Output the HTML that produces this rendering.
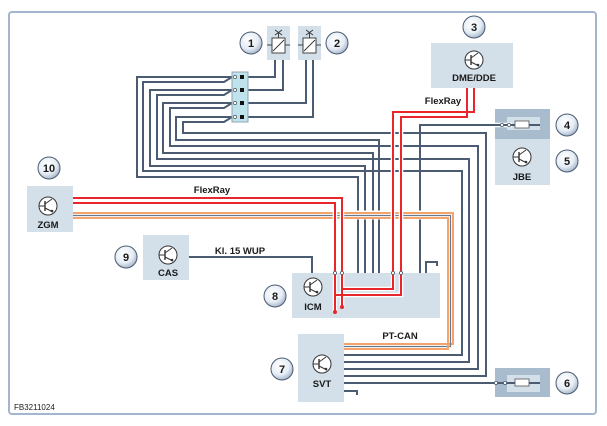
<!DOCTYPE html>
<html><head><meta charset="utf-8"><style>
html,body{margin:0;padding:0;background:#fff;}
svg{display:block;}
text{font-family:"Liberation Sans",sans-serif;font-weight:bold;fill:#1a1a1a;}
</style></head><body>
<svg width="607" height="426" viewBox="0 0 607 426" xmlns="http://www.w3.org/2000/svg">
<defs>
<radialGradient id="cg" cx="40%" cy="35%" r="70%">
<stop offset="0" stop-color="#ffffff"/><stop offset="0.6" stop-color="#e6edf5"/><stop offset="1" stop-color="#9fb0c4"/>
</radialGradient>
<g id="tr">
<circle r="9" fill="#fff" stroke="#333" stroke-width="1"/>
<line x1="-3" y1="-5" x2="-3" y2="5" stroke="#333" stroke-width="1.4"/>
<line x1="-9" y1="0" x2="-3" y2="0" stroke="#333" stroke-width="1"/>
<line x1="-3" y1="-2" x2="4" y2="-7" stroke="#333" stroke-width="1"/>
<line x1="-3" y1="2" x2="5" y2="6" stroke="#333" stroke-width="1"/>
<circle cx="4" cy="5" r="1.3" fill="#333"/>
</g>
</defs>
<rect x="9" y="12" width="587" height="402" rx="3" fill="#fff" stroke="#a3b6cd" stroke-width="2"/>

<!-- boxes -->
<g fill="#d3dfe9">
<rect x="431" y="43" width="82" height="45"/>
<rect x="495" y="109" width="55" height="76"/>
<rect x="27" y="186" width="46" height="46"/>
<rect x="143" y="235" width="46" height="45"/>
<rect x="292" y="273" width="148" height="45"/>
<rect x="298" y="334" width="46" height="68"/>
<rect x="267" y="26" width="23" height="34"/>
<rect x="298" y="26" width="23" height="34"/>
</g>
<rect x="495" y="109" width="55" height="30" fill="#a9bccd"/>
<rect x="495" y="368" width="55" height="29" fill="#a9bccd"/>
<rect x="507" y="117" width="33" height="13" fill="#d3dfe9"/>
<rect x="507" y="375" width="33" height="17" fill="#d3dfe9"/>

<!-- wires -->
<g fill="none" stroke-linejoin="miter">
<g stroke="#fff" stroke-width="4.5">
<path d="M232,77 H137 V177 H358 V273"/>
<path d="M232,77 L224,82 H143 V171 H462 V355 H344"/>
<path d="M232,90 H150 V166 H365 V273"/>
<path d="M232,90 L224,95 H157 V159 H469 V362 H344"/>
<path d="M232,103 H163 V153 H373 V273"/>
<path d="M232,103 L224,108 H170 V146 H478 V369 H344"/>
<path d="M232,117 H176 V140 H379 V273"/>
<path d="M232,117 L224,122 H183 V133 H486 V376 H344"/>
<path d="M420,273 V125 H512"/>
</g>
<g stroke="#4a5b72" stroke-width="2">
<path d="M232,77 H137 V177 H358 V273"/>
<path d="M232,77 L224,82 H143 V171 H462 V355 H344"/>
<path d="M232,90 H150 V166 H365 V273"/>
<path d="M232,90 L224,95 H157 V159 H469 V362 H344"/>
<path d="M232,103 H163 V153 H373 V273"/>
<path d="M232,103 L224,108 H170 V146 H478 V369 H344"/>
<path d="M232,117 H176 V140 H379 V273"/>
<path d="M232,117 L224,122 H183 V133 H486 V376 H344"/>
<path d="M420,273 V125 H540"/>
<path d="M275,60 V77 H248"/>
<path d="M283,60 V90 H248"/>
<path d="M306,60 V103 H248"/>
<path d="M313,60 V117 H248"/>
<path d="M189,257 H312 V273"/>
<path d="M344,383 H540"/>
<path d="M426,273 V262 H437 V266"/>
<path d="M344,391 H357 V395"/>
</g>
<!-- orange PT-CAN -->
<g stroke="#fff" stroke-width="9"><path d="M73,215 H451 V347 H344"/></g>
<path d="M73,213 H453 V344 H344" stroke="#f4a46a" stroke-width="2"/>
<path d="M73,215.5 H450.5 V346.5 H344" stroke="#6a7a8e" stroke-width="1.2"/>
<path d="M73,218 H448 V349 H344" stroke="#f4a46a" stroke-width="2"/>
<!-- red FlexRay -->
<g stroke="#fff" stroke-width="4.5">
<path d="M73,198 H342 V307"/><path d="M73,203 H335 V312"/>
<path d="M474,88 V112 H393 V289 H342"/><path d="M467,88 V117 H401 V295 H335"/>
</g>
<g stroke="#e8262b" stroke-width="2">
<path d="M73,198 H342 V307"/><path d="M73,203 H335 V312"/>
<path d="M474,88 V112 H393 V289 H342"/><path d="M467,88 V117 H401 V295 H335"/>
</g>
</g>
<g fill="#e8262b"><circle cx="342" cy="307" r="2"/><circle cx="335" cy="312" r="2"/></g>
<g fill="#fff" stroke="#4a5b72" stroke-width="0.8">
<circle cx="335" cy="273" r="1.6"/><circle cx="342" cy="273" r="1.6"/><circle cx="393" cy="273" r="1.6"/><circle cx="401" cy="273" r="1.6"/>
<circle cx="502" cy="125" r="1.6"/><circle cx="509" cy="125" r="1.6"/>
<circle cx="496" cy="383" r="1.6"/><circle cx="505" cy="383" r="1.6"/>
</g>
<!-- fuses -->
<rect x="515" y="121" width="14" height="7" fill="#fff" stroke="#555" stroke-width="0.8"/>
<rect x="515" y="379" width="14" height="7" fill="#fff" stroke="#555" stroke-width="0.8"/>

<!-- connector block -->
<rect x="232" y="72" width="16" height="50" fill="#bfe3ec" stroke="#8fa3b5" stroke-width="1"/>
<g fill="#111"><rect x="240" y="75" width="4" height="4"/><rect x="240" y="88" width="4" height="4"/><rect x="240" y="101" width="4" height="4"/><rect x="240" y="115" width="4" height="4"/></g>
<g fill="#fff" stroke="#555" stroke-width="0.7"><circle cx="235" cy="77" r="1.6"/><circle cx="235" cy="90" r="1.6"/><circle cx="235" cy="103" r="1.6"/><circle cx="235" cy="117" r="1.6"/></g>

<!-- relays -->
<g stroke="#333" stroke-width="0.9" fill="none">
<rect x="272" y="38" width="13" height="15" fill="#fff"/><line x1="273" y1="51" x2="284" y2="40"/>
<line x1="267" y1="45" x2="272" y2="45"/><line x1="285" y1="45" x2="290" y2="45"/>
<path d="M275,30 L282,35 M275,35 L282,30 M278.5,32.5 V38"/>
<rect x="303" y="38" width="13" height="15" fill="#fff"/><line x1="304" y1="51" x2="315" y2="40"/>
<line x1="298" y1="45" x2="303" y2="45"/><line x1="316" y1="45" x2="321" y2="45"/>
<path d="M306,30 L313,35 M306,35 L313,30 M309.5,32.5 V38"/>
</g>

<!-- transistors -->
<use href="#tr" x="474" y="60"/>
<use href="#tr" x="522" y="157"/>
<use href="#tr" x="48" y="206"/>
<use href="#tr" x="168" y="255"/>
<use href="#tr" x="313" y="287"/>
<use href="#tr" x="322" y="364"/>

<g font-size="9.5" text-anchor="middle">
<text x="474" y="81">DME/DDE</text>
<text x="522" y="180">JBE</text>
<text x="48" y="228">ZGM</text>
<text x="168" y="276">CAS</text>
<text x="313" y="310">ICM</text>
<text x="322" y="387">SVT</text>
</g>
<g font-size="9.5" text-anchor="middle">
<text x="212" y="193">FlexRay</text>
<text x="443" y="104">FlexRay</text>
<text x="240" y="254">Kl. 15 WUP</text>
<text x="400" y="339">PT-CAN</text>
</g>
<text x="14" y="410" font-size="8" style="font-weight:normal" fill="#333">FB3211024</text>

<!-- numbered circles -->
<g stroke="#4a5b72" stroke-width="1" fill="url(#cg)">
<circle cx="251" cy="43" r="11"/><circle cx="337" cy="43" r="11"/>
<circle cx="474" cy="27" r="11"/><circle cx="567" cy="125" r="11"/>
<circle cx="567" cy="161" r="11"/><circle cx="49" cy="168" r="11"/>
<circle cx="126" cy="257" r="11"/><circle cx="275" cy="296" r="11"/>
<circle cx="282" cy="369" r="11"/><circle cx="567" cy="383" r="11"/>
</g>
<g font-size="11" text-anchor="middle">
<text x="251" y="47">1</text><text x="337" y="47">2</text>
<text x="474" y="31">3</text><text x="567" y="129">4</text>
<text x="567" y="165">5</text><text x="49" y="172">10</text>
<text x="126" y="261">9</text><text x="275" y="300">8</text>
<text x="282" y="373">7</text><text x="567" y="387">6</text>
</g>
</svg>
</body></html>
